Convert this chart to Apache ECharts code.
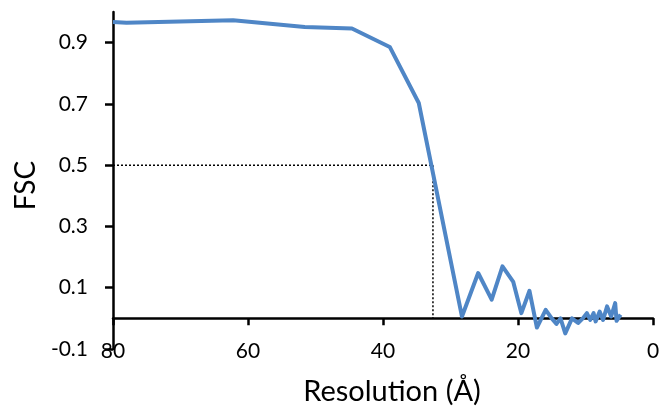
<!DOCTYPE html>
<html>
<head>
<meta charset="utf-8">
<script src="https://cdn.jsdelivr.net/npm/echarts@6/dist/echarts.min.js"></script>
<style>
html, body { margin: 0; padding: 0; background: #fff; }
#fscChart { width: 660px; height: 412px; }
</style>
</head>
<body>
<div id="fscChart"></div>
<script>
// FSC curve
var resolution = [80, 78, 62.2, 51.6, 44.6, 39.0, 34.7, 28.3, 25.9, 23.9, 22.3, 20.7, 19.5, 18.3, 17.2,
    15.9, 15.0, 14.3, 13.7, 13.0, 12.0, 11.1, 10.4, 9.8, 9.3, 8.8, 8.5, 7.9, 7.4, 6.8, 6.2, 5.6, 5.4, 4.8];
var fsc = [0.967, 0.965, 0.973, 0.951, 0.946, 0.886, 0.703, 0.006, 0.148, 0.061, 0.170, 0.119, 0.017, 0.090, -0.030,
    0.028, 0.0, -0.018, 0.0, -0.049, 0.0, -0.015, 0.0, 0.017, -0.005, 0.017, -0.010, 0.022, -0.005, 0.039, 0.006, 0.050, -0.008, 0.012];

var xTicks = [80, 60, 40, 20, 0];
var yTicks = [-0.1, 0.1, 0.3, 0.5, 0.7, 0.9];

// 0.5 cutoff
var cutoffFsc = 0.5;
var cutoffRes = 32.6;

function pairs(xs, ys) {
    var out = [];
    for (var i = 0; i < xs.length; i++) {
        out.push([xs[i], ys[i]]);
    }
    return out;
}

var font = 'Lato, "Open Sans", sans-serif';

var option = {
    animation: false,
    grid: { left: 113, right: 7, top: 12, bottom: 63, outerBoundsMode: 'none', containLabel: false },
    xAxis: {
        type: 'value',
        inverse: true,
        min: 0,
        max: 80,
        interval: 20,
        name: 'Resolution (Å)',
        nameLocation: 'middle',
        nameGap: 28,
        nameMoveOverlap: false,
        nameTextStyle: { color: '#000', fontSize: 29, fontFamily: font, padding: [0, 0, 0, 18] },
        axisLine: { onZero: true, lineStyle: { color: '#000', width: 2.5 } },
        axisTick: { length: 7, lineStyle: { color: '#000', width: 2.5 }, customValues: xTicks },
        axisLabel: { margin: -8, color: '#000', fontSize: 21, fontFamily: font, customValues: xTicks },
        splitLine: { show: false }
    },
    yAxis: {
        type: 'value',
        min: -0.1,
        max: 1.0,
        name: 'FSC',
        nameLocation: 'middle',
        nameGap: 70,
        nameTextStyle: { color: '#000', fontSize: 28, fontFamily: font, padding: [0, 10, 0, 0] },
        axisLine: { onZero: false, lineStyle: { color: '#000', width: 2.5 } },
        axisTick: { length: 8, lineStyle: { color: '#000', width: 2.5 }, customValues: yTicks },
        axisLabel: { margin: 25, color: '#000', fontSize: 21, fontFamily: font, customValues: yTicks },
        splitLine: { show: false }
    },
    series: [
        {
            type: 'line',
            data: [[80, cutoffFsc], [cutoffRes, cutoffFsc], [cutoffRes, 0]],
            showSymbol: false,
            silent: true,
            lineStyle: { color: '#000', width: 1.5, type: [2, 2] },
            z: 1
        },
        {
            type: 'line',
            data: pairs(resolution, fsc),
            showSymbol: false,
            lineStyle: { color: '#4f86c6', width: 4, join: 'round' },
            z: 2
        }
    ]
};

var chart = echarts.init(document.getElementById('fscChart'));
chart.setOption(option);
</script>
</body>
</html>
